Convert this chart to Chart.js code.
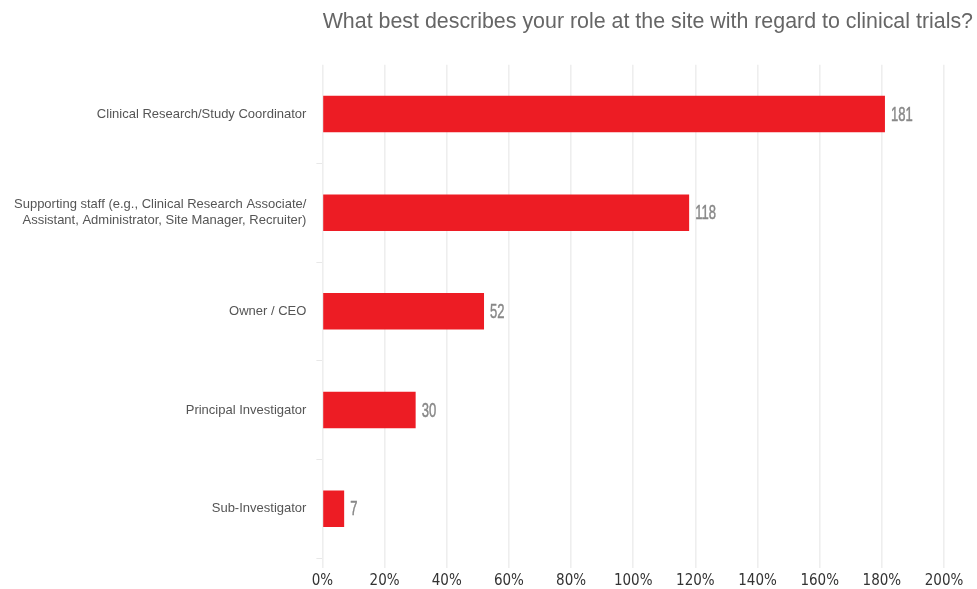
<!DOCTYPE html>
<html>
<head>
<meta charset="utf-8">
<script src="https://cdn.jsdelivr.net/npm/chart.js@4"></script>
<style>
  body { margin: 0; background: #fff; }
  #wrap { width: 977px; height: 589px; }
</style>
</head>
<body>
<div id="wrap"><canvas id="roleChart" width="977" height="589"></canvas></div>
<script>
const categories = [
    "Clinical Research/Study Coordinator",
    ["Supporting staff (e.g., Clinical Research Associate/", "Assistant, Administrator, Site Manager, Recruiter)"],
    "Owner / CEO",
    "Principal Investigator",
    "Sub-Investigator"
];
const respondents = [181, 118, 52, 30, 7];
const tickValues = [0, 20, 40, 60, 80, 100, 120, 140, 160, 180, 200];

// draws the count next to each bar, squeezed sideways to look condensed
const valueLabels = {
    id: 'valueLabels',
    afterDatasetsDraw(chart) {
        const ctx = chart.ctx;
        chart.getDatasetMeta(0).data.forEach((bar, i) => {
            ctx.save();
            ctx.translate(bar.x + 6, bar.y + 1);
            ctx.scale(0.62, 1);
            ctx.font = "21px 'Liberation Sans', sans-serif";
            ctx.fillStyle = '#888888';
            ctx.strokeStyle = '#888888';
            ctx.lineWidth = 0.5;
            ctx.textAlign = 'left';
            ctx.textBaseline = 'middle';
            ctx.fillText(respondents[i], 0, 0);
            ctx.strokeText(respondents[i], 0, 0);
            ctx.restore();
        });
    }
};

const ctx = document.getElementById('roleChart').getContext('2d');

new Chart(ctx, {
    type: 'bar',
    data: {
        labels: categories,
        datasets: [{
            data: respondents,
            backgroundColor: '#ed1c24',
            barPercentage: 0.37,
            categoryPercentage: 1.0
        }]
    },
    options: {
        indexAxis: 'y',
        responsive: false,
        animation: false,
        layout: { padding: { left: 4, right: 4, top: 0, bottom: -5 } },
        plugins: {
            legend: { display: false },
            tooltip: { enabled: false },
            title: {
                display: true,
                text: 'What best describes your role at the site with regard to clinical trials?',
                align: 'end',
                color: '#666',
                font: { family: "'Liberation Sans', sans-serif", size: 21.4, weight: 'normal' },
                padding: { top: 9, bottom: 30 }
            }
        },
        scales: {
            x: {
                min: 0,
                max: 200,
                afterBuildTicks: (axis) => { axis.ticks = tickValues.map(v => ({ value: v })); },
                afterFit: (axis) => { axis.paddingRight = 33; axis.paddingBottom = 0; },
                ticks: {
                    callback: (v) => v + '%',
                    color: '#333',
                    font: { family: "'DejaVu Sans Condensed', 'Liberation Sans', sans-serif", size: 15 },
                    padding: 4
                },
                grid: { color: '#eeeeee', lineWidth: 1.6, drawTicks: true, tickLength: 10 },
                border: { display: false }
            },
            y: {
                ticks: {
                    color: '#555',
                    font: { family: "'Liberation Sans', Arial, sans-serif", size: 13 },
                    padding: 10
                },
                grid: {
                    drawOnChartArea: false,
                    tickLength: 6,
                    color: (c) => (c.index === 0 || c.index === categories.length) ? 'rgba(0,0,0,0)' : '#e8e8e8'
                },
                border: { display: false }
            }
        }
    },
    plugins: [valueLabels]
});
</script>
</body>
</html>
